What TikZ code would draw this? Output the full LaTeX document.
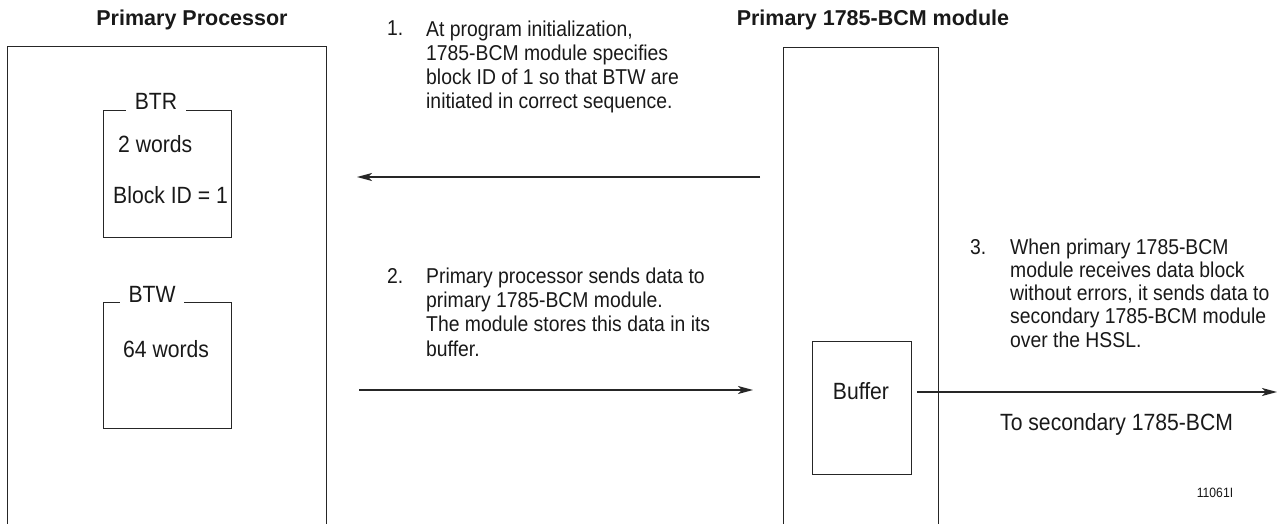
\documentclass[tikz,border=0pt]{standalone}
\usepackage{fontspec}
\setmainfont[FakeStretch=0.9]{Liberation Sans}
\newfontfamily\titlefont{Liberation Sans}
\usetikzlibrary{arrows.meta}
\begin{document}
\begin{tikzpicture}[x=1pt,y=-1pt,
  ln/.style={line width=1.2pt, draw=black!85},
  boxnode/.style={ln, rectangle, inner sep=0pt, anchor=north west},
  lbl/.style={font=\fontsize{23.5}{26}\selectfont, inner sep=0pt, text=black!90},
  gaplbl/.style={lbl, fill=white, inner xsep=9pt, inner ysep=2pt, anchor=base},
  stxt/.style={font=\fontsize{21.5}{24.3}\selectfont, align=left, inner sep=0pt, anchor=base west, text=black!90},
  ttl/.style={font=\titlefont\bfseries\fontsize{21.5}{24}\selectfont, inner sep=0pt, anchor=base, text=black!90},
  arr/.style={ln, -{Stealth[length=15pt,width=8pt,inset=4pt]}}
]
\useasboundingbox (0,0) rectangle (1283,524);
\clip (0,0) rectangle (1283,524);
\fill[white] (0,0) rectangle (1283,524);

% titles
\node[ttl] (t1) at (192,26) {Primary Processor};
\node[ttl] (t2) at (873,26) {Primary 1785-BCM module};

% outer containers (cut off at the bottom)
\node[boxnode, minimum width=319pt, minimum height=520pt] (proc) at (7,46) {};
\node[boxnode, minimum width=155pt, minimum height=520pt] (bcm) at (783,47) {};

% BTR box
\node[boxnode, minimum width=128pt, minimum height=127pt] (btr) at (103,110) {};
\node[gaplbl] (btrl) at (156,110) {BTR};
\node[lbl, anchor=base west] (btr1) at (118,153) {2 words};
\node[lbl, anchor=base west] (btr2) at (113,204) {Block ID = 1};

% BTW box
\node[boxnode, minimum width=128pt, minimum height=126pt] (btw) at (103,302) {};
\node[gaplbl] (btwl) at (152,302) {BTW};
\node[lbl, anchor=base west] (btw1) at (123,357) {64 words};

% Buffer box
\node[boxnode, minimum width=99pt, minimum height=133pt] (buf) at (812,341) {};
\node[lbl, anchor=base] (bufl) at (861,399) {Buffer};

% step 1 (multi-line nodes: base = last line)
\node[stxt] (n1) at (387,36) {1.};
\node[stxt] (s1) at (426,109) {At program initialization,\\1785-BCM module specifies\\block ID of 1 so that BTW are\\initiated in correct sequence.};

% step 2
\node[stxt] (n2) at (387,283) {2.};
\node[stxt] (s2) at (426,356) {Primary processor sends data to\\primary 1785-BCM module.\\The module stores this data in its\\buffer.};

% step 3
\node[stxt, font=\fontsize{21.5}{23.2}\selectfont] (n3) at (970,254) {3.};
\node[stxt, font=\fontsize{21.5}{23.2}\selectfont] (s3) at (1010,347) {When primary 1785-BCM\\module receives data block\\without errors, it sends data to\\secondary 1785-BCM module\\over the HSSL.};

\node[lbl, anchor=base west] (dest) at (1000,430) {To secondary 1785-BCM};
\node[lbl, font=\fontsize{13.5}{15}\selectfont, anchor=base] (fig) at (1215,497) {11061I};

% arrows
\coordinate (a1s) at (760,177);
\coordinate (a1e) at (357,177);
\coordinate (a2s) at (359,390);
\coordinate (a2e) at (753,390);
\coordinate (a3s) at (917,392);
\coordinate (a3e) at (1277,392);
\draw[arr] (a1s) -- (a1e);
\draw[arr] (a2s) -- (a2e);
\draw[arr] (a3s) -- (a3e);
\end{tikzpicture}
\end{document}
